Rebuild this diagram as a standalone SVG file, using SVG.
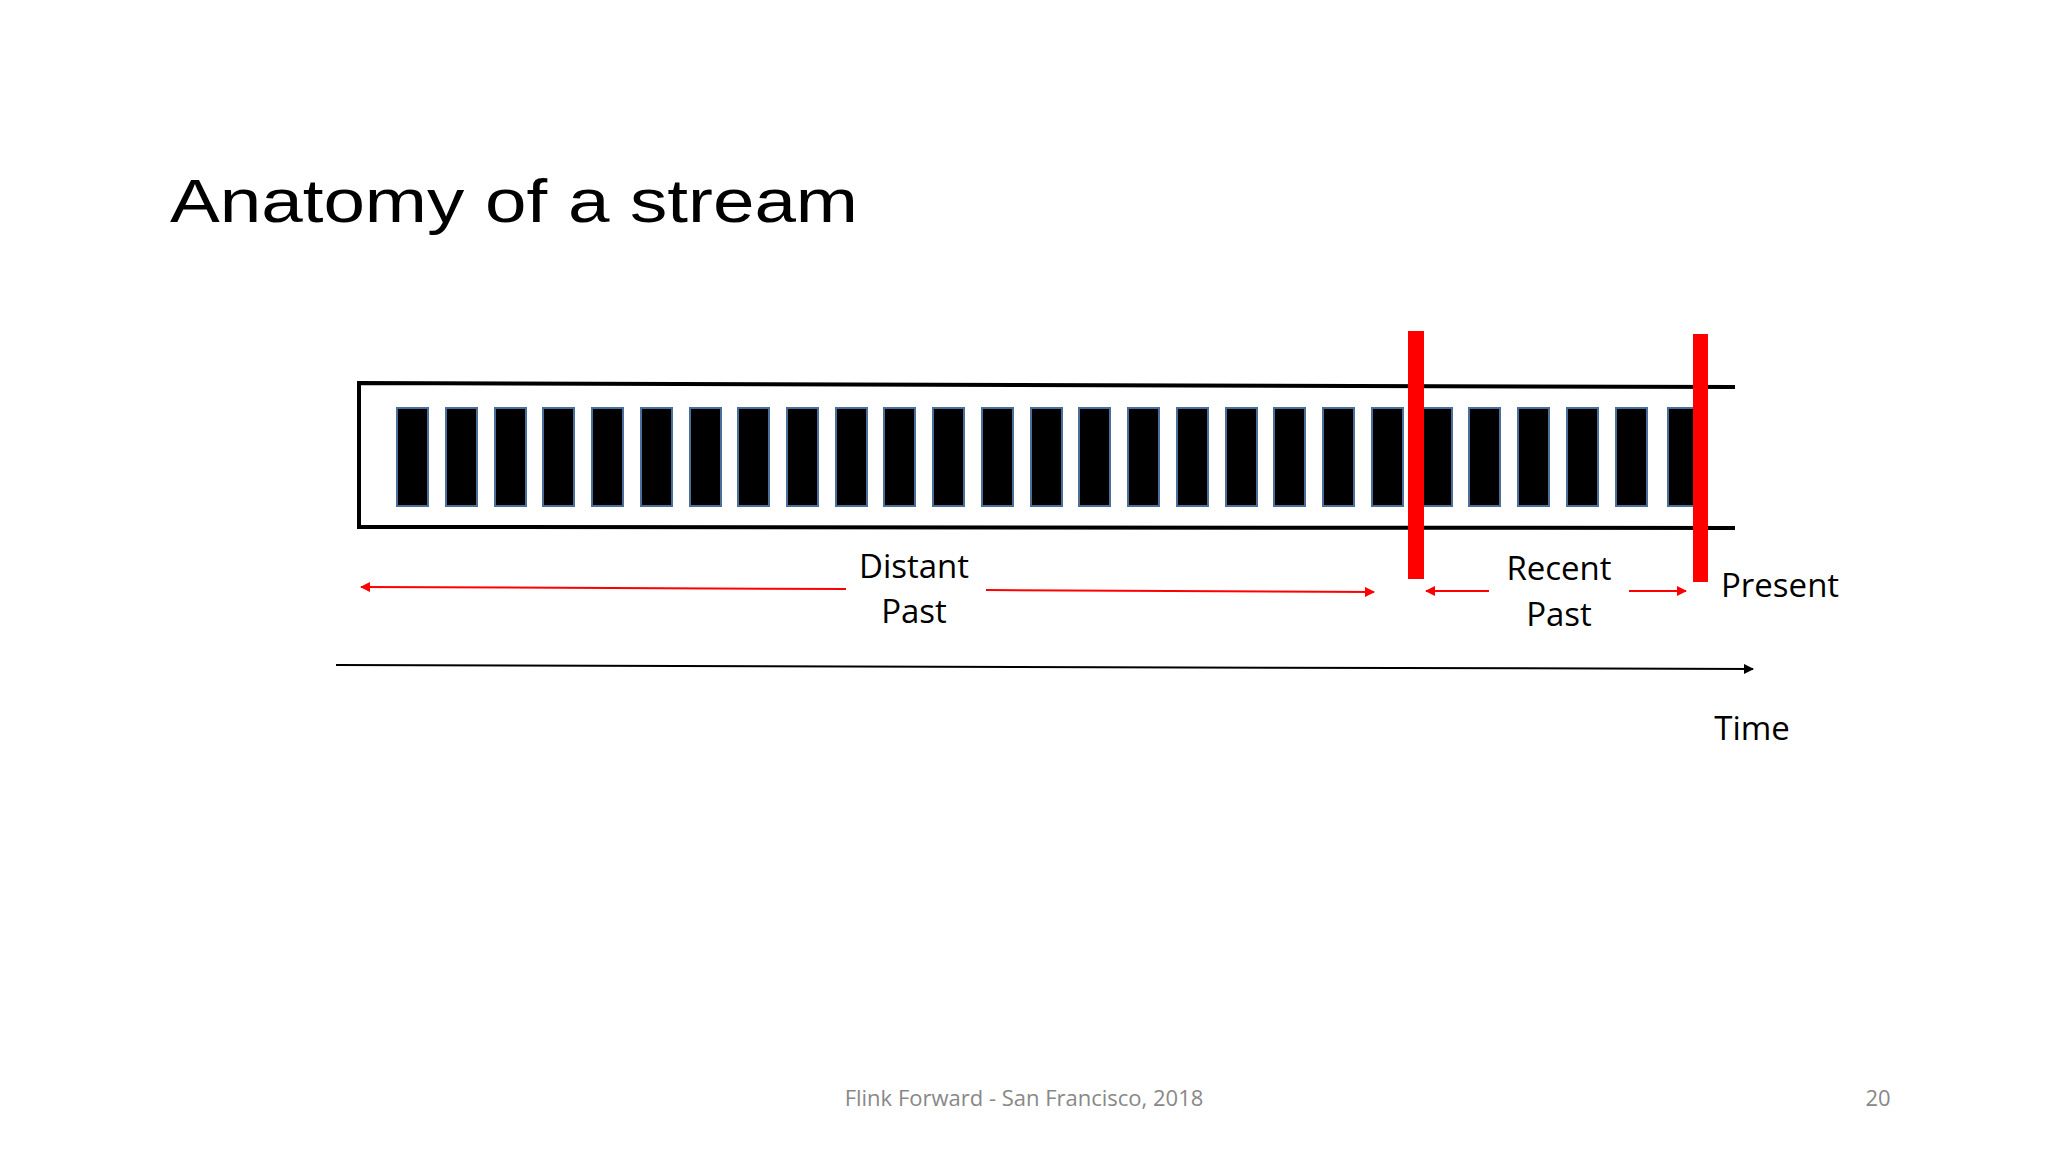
<svg xmlns="http://www.w3.org/2000/svg" width="2048" height="1152" viewBox="0 0 2048 1152">
<defs>
<style>
.t{font-family:"Open Sans","Liberation Sans",sans-serif;fill:#000;font-size:33px;text-anchor:middle}
.b{fill:#000;stroke:#4a6f9a;stroke-width:2}
.r{stroke:#f00;stroke-width:2;fill:none}
.f{font-family:"Open Sans","Liberation Sans",sans-serif;font-size:22px;fill:#888;text-anchor:middle}
</style>
<marker id="ar" viewBox="0 0 10 10" refX="9" refY="5" markerWidth="5" markerHeight="5" orient="auto-start-reverse"><path d="M0,0L10,5L0,10z" fill="#f00"/></marker>
<marker id="ak" viewBox="0 0 10 10" refX="9" refY="5" markerWidth="5" markerHeight="5" orient="auto"><path d="M0,0L10,5L0,10z" fill="#000"/></marker>
</defs>
<rect width="2048" height="1152" fill="#fff"/>
<text x="170" y="222" font-family="'Liberation Sans',sans-serif" font-size="62" textLength="688" lengthAdjust="spacingAndGlyphs">Anatomy of a stream</text>
<g id="stream">
<path d="M1735,387L359,383L359,527L1735,528" fill="none" stroke="#000" stroke-width="4"/>
<g id="events">
<rect class="b" x="397" y="408" width="31" height="98"/><rect class="b" x="446" y="408" width="31" height="98"/><rect class="b" x="495" y="408" width="31" height="98"/><rect class="b" x="543" y="408" width="31" height="98"/><rect class="b" x="592" y="408" width="31" height="98"/><rect class="b" x="641" y="408" width="31" height="98"/><rect class="b" x="690" y="408" width="31" height="98"/><rect class="b" x="738" y="408" width="31" height="98"/><rect class="b" x="787" y="408" width="31" height="98"/><rect class="b" x="836" y="408" width="31" height="98"/><rect class="b" x="884" y="408" width="31" height="98"/><rect class="b" x="933" y="408" width="31" height="98"/><rect class="b" x="982" y="408" width="31" height="98"/><rect class="b" x="1031" y="408" width="31" height="98"/><rect class="b" x="1079" y="408" width="31" height="98"/><rect class="b" x="1128" y="408" width="31" height="98"/><rect class="b" x="1177" y="408" width="31" height="98"/><rect class="b" x="1226" y="408" width="31" height="98"/><rect class="b" x="1274" y="408" width="31" height="98"/><rect class="b" x="1323" y="408" width="31" height="98"/><rect class="b" x="1372" y="408" width="31" height="98"/><rect class="b" x="1421" y="408" width="31" height="98"/><rect class="b" x="1469" y="408" width="31" height="98"/><rect class="b" x="1518" y="408" width="31" height="98"/><rect class="b" x="1567" y="408" width="31" height="98"/><rect class="b" x="1616" y="408" width="31" height="98"/><rect class="b" x="1668" y="408" width="31" height="98"/>
</g>
</g>
<g id="markers">
<rect x="1408" y="331" width="16" height="248" fill="#f00"/>
<rect x="1693" y="334" width="15" height="248" fill="#f00"/>
</g>
<g id="connectors">
<line class="r" x1="846" y1="589" x2="361" y2="587" marker-end="url(#ar)"/>
<line class="r" x1="986" y1="590" x2="1374" y2="592" marker-end="url(#ar)"/>
<line class="r" x1="1489" y1="591" x2="1426" y2="591" marker-end="url(#ar)"/>
<line class="r" x1="1629" y1="591" x2="1686" y2="591" marker-end="url(#ar)"/>
<line x1="336" y1="665" x2="1753" y2="669" stroke="#000" stroke-width="2" marker-end="url(#ak)"/>
</g>
<g id="labels">
<text class="t" x="914" y="578">Distant</text>
<text class="t" x="914" y="623">Past</text>
<text class="t" x="1559" y="580">Recent</text>
<text class="t" x="1559" y="626">Past</text>
<text class="t" x="1721" y="597" style="text-anchor:start">Present</text>
<text class="t" x="1752" y="740">Time</text>
</g>
<text class="f" x="1024" y="1106">Flink Forward - San Francisco, 2018</text>
<text class="f" x="1878" y="1106">20</text>
</svg>
